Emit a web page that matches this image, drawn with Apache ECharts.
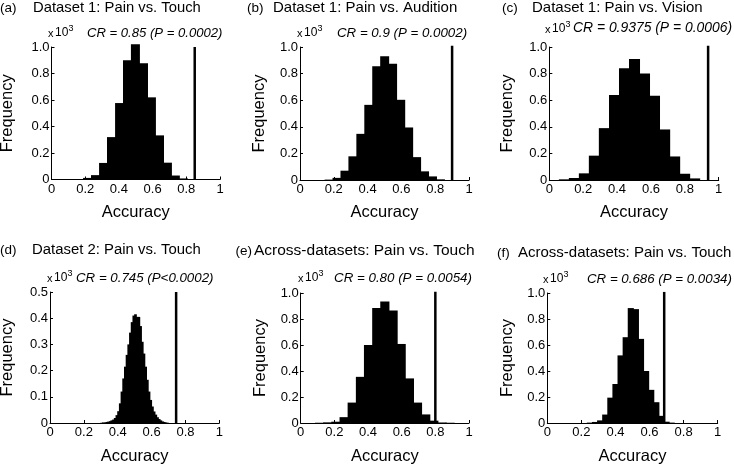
<!DOCTYPE html>
<html><head><meta charset="utf-8">
<script src="https://cdn.jsdelivr.net/npm/echarts@6/dist/echarts.min.js"></script>
<style>html,body{margin:0;padding:0;background:#fff}#c{width:734px;height:467px}</style>
</head><body><div id="c"></div>
<script>
// ---------- data ----------
const panelLetters = ['(a)', '(b)', '(c)', '(d)', '(e)', '(f)'];
const panelTitles = [
  'Dataset 1: Pain vs. Touch',
  'Dataset 1: Pain vs. Audition',
  'Dataset 1: Pain vs. Vision',
  'Dataset 2: Pain vs. Touch',
  'Across-datasets: Pain vs. Touch',
  'Across-datasets: Pain vs. Touch'
];
const crTexts = [
  'CR = 0.85 (P = 0.0002)',
  'CR = 0.9 (P = 0.0002)',
  'CR = 0.9375 (P = 0.0006)',
  'CR = 0.745 (P<0.0002)',
  'CR = 0.80 (P = 0.0054)',
  'CR = 0.686 (P = 0.0034)'
];
const crValues = [0.85, 0.9, 0.9375, 0.745, 0.80, 0.686];
const crLineTops = [1.0, 1.02, 1.02, 0.5, 1.02, 1.01];   // x10^3
const yMaxValues = [1, 1, 1, 0.5, 1, 1];
const yIntervals = [0.2, 0.2, 0.2, 0.1, 0.2, 0.2];
const binWidths = [0.0474, 0.0471, 0.0592, 0.01, 0.0485, 0.03];

const centersA = [0.167, 0.214, 0.261, 0.309, 0.356, 0.404, 0.451, 0.498, 0.546, 0.593, 0.641, 0.688, 0.735, 0.783];
const countsA  = [0.003, 0.012, 0.033, 0.125, 0.32, 0.577, 0.90, 1.02, 0.877, 0.62, 0.333, 0.127, 0.03, 0.008];

const centersB = [0.172, 0.219, 0.266, 0.313, 0.360, 0.407, 0.454, 0.501, 0.548, 0.596, 0.643, 0.690, 0.737, 0.784, 0.831];
const countsB  = [0.003, 0.016, 0.07, 0.178, 0.347, 0.565, 0.856, 0.93, 0.875, 0.603, 0.395, 0.172, 0.065, 0.027, 0.005];

const centersC = [0.089, 0.148, 0.207, 0.266, 0.325, 0.385, 0.444, 0.503, 0.562, 0.621, 0.681, 0.740, 0.799, 0.858];
const countsC  = [0.005, 0.015, 0.05, 0.183, 0.39, 0.64, 0.84, 0.91, 0.80, 0.633, 0.38, 0.177, 0.047, 0.012];

const centersD = [0.305, 0.315, 0.325, 0.335, 0.345, 0.355, 0.365, 0.375, 0.385, 0.395,
                  0.405, 0.415, 0.425, 0.435, 0.445, 0.455, 0.465, 0.475, 0.485, 0.495,
                  0.505, 0.515, 0.525, 0.535, 0.545, 0.555, 0.565, 0.575, 0.585, 0.595,
                  0.605, 0.615, 0.625, 0.635, 0.645, 0.655, 0.665, 0.675, 0.685, 0.695];
const countsD  = [0.001, 0.002, 0.002, 0.004, 0.005, 0.007, 0.010, 0.013, 0.019, 0.030,
                  0.045, 0.075, 0.12, 0.17, 0.215, 0.26, 0.30, 0.345, 0.385, 0.41,
                  0.415, 0.405, 0.405, 0.37, 0.31, 0.265, 0.215, 0.165, 0.12, 0.088,
                  0.063, 0.044, 0.032, 0.022, 0.015, 0.010, 0.006, 0.004, 0.002, 0.001];

const centersE = [0.112, 0.161, 0.209, 0.258, 0.306, 0.355, 0.403, 0.452, 0.500, 0.549, 0.597, 0.646, 0.694, 0.743, 0.791, 0.840, 0.888];
const countsE  = [0.002, 0.005, 0.01, 0.045, 0.157, 0.355, 0.60, 0.884, 0.935, 0.866, 0.608, 0.343, 0.157, 0.066, 0.018, 0.004, 0.002];

const centersF = [0.25, 0.28, 0.31, 0.34, 0.37, 0.40, 0.43, 0.46, 0.49, 0.52, 0.55, 0.58, 0.61, 0.64, 0.67, 0.70, 0.73];
const countsF  = [0.003, 0.008, 0.02, 0.065, 0.195, 0.30, 0.52, 0.66, 0.884, 0.876, 0.647, 0.40, 0.255, 0.16, 0.055, 0.01, 0.003];

const allCenters = [centersA, centersB, centersC, centersD, centersE, centersF];
const allCounts = [countsA, countsB, countsC, countsD, countsE, countsF];

// ---------- layout ----------
const grids = [
  {left: 51.5, top: 47, width: 168.5, height: 132.5},
  {left: 300, top: 47, width: 169, height: 133},
  {left: 549.3, top: 47, width: 169.4, height: 133},
  {left: 50, top: 292, width: 169.3, height: 131},
  {left: 300.7, top: 293, width: 168.3, height: 130},
  {left: 547.3, top: 293, width: 170.4, height: 130}
];
const letterPos = [[0, 8], [247, 8], [502, 8], [0, 250], [235.5, 251], [497, 253]];
const titlePos  = [[33, 8], [273, 8], [532, 8], [32, 250], [254, 251], [518, 253]];
const titleSizes = [14.8, 15, 15, 14.9, 15.5, 15];
const x10Pos    = [[48, 33], [297, 33], [545, 29], [47, 278], [298, 278], [543, 279]];
const crPos     = [[87, 33], [337, 33], [573, 28], [76, 278], [334, 278], [587, 279]];
const crSizes   = [13.1, 13.3, 13.9, 13.3, 13.35, 13.3];
const freqX     = [7.5, 259.5, 507.5, 7.5, 260, 507.5];
const accY      = [212, 212, 212, 456, 456, 456];

const FONT = '"Liberation Sans", Arial, Helvetica, sans-serif';

const chart = echarts.init(document.getElementById('c'), null, {renderer: 'canvas'});

function renderBars(params, api) {
  const c = api.value(0), h = api.value(1), w = api.value(2);
  const p0 = api.coord([c - w / 2, 0]);
  const p1 = api.coord([c + w / 2, h]);
  // slight overlap so neighbouring bars merge without anti-alias seams
  return {
    type: 'rect',
    shape: {x: p0[0] - 0.5, y: p1[1], width: p1[0] - p0[0] + 1, height: p0[1] - p1[1]},
    style: {fill: '#000'}
  };
}

const gridOpt = [], xAxes = [], yAxes = [], series = [], graphics = [];
for (let i = 0; i < 6; i++) {
  gridOpt.push(Object.assign({containLabel: false}, grids[i]));
  xAxes.push({
    type: 'value', gridIndex: i, min: 0, max: 1, interval: 0.2,
    axisLine: {show: true, onZero: false, lineStyle: {color: '#000', width: 1}},
    axisTick: {show: true, inside: true, length: 3, lineStyle: {color: '#000'}},
    splitLine: {show: false},
    axisLabel: {color: '#000', fontFamily: FONT, fontSize: 13, margin: 3,
      formatter: v => (v === 0 ? '0' : v === 1 ? '1' : v.toFixed(1))}
  });
  yAxes.push({
    type: 'value', gridIndex: i, min: 0, max: yMaxValues[i], interval: yIntervals[i],
    axisLine: {show: true, lineStyle: {color: '#000', width: 1}},
    axisTick: {show: true, inside: true, length: 3, lineStyle: {color: '#000'}},
    splitLine: {show: false},
    axisLabel: {color: '#000', fontFamily: FONT, fontSize: 13, margin: 2,
      formatter: v => (v === 0 ? '0' : v.toFixed(1))}
  });
  series.push({
    type: 'custom', xAxisIndex: i, yAxisIndex: i, clip: false,
    renderItem: renderBars,
    encode: {x: 0, y: 1},
    data: allCenters[i].map((c, k) => [c, allCounts[i][k], binWidths[i]]),
    silent: true, z: 2
  });
  series.push({
    type: 'line', xAxisIndex: i, yAxisIndex: i, symbol: 'none', silent: true,
    lineStyle: {color: '#000', width: 2.5}, z: 3,
    data: [[crValues[i], 0], [crValues[i], crLineTops[i]]]
  });

  graphics.push({type: 'text', x: letterPos[i][0], y: letterPos[i][1],
    style: {text: panelLetters[i], font: '13.5px ' + FONT, fill: '#000', textVerticalAlign: 'middle'}});
  graphics.push({type: 'text', x: titlePos[i][0], y: titlePos[i][1],
    style: {text: panelTitles[i], font: titleSizes[i] + 'px ' + FONT, fill: '#000', textVerticalAlign: 'middle'}});
  graphics.push({type: 'text', x: x10Pos[i][0], y: x10Pos[i][1] + 1,
    style: {text: 'x', font: '11px ' + FONT, fill: '#000', textVerticalAlign: 'middle'}});
  graphics.push({type: 'text', x: x10Pos[i][0] + 7, y: x10Pos[i][1],
    style: {text: '10', font: '12px ' + FONT, fill: '#000', textVerticalAlign: 'middle'}});
  graphics.push({type: 'text', x: x10Pos[i][0] + 20.5, y: x10Pos[i][1] - 4,
    style: {text: '3', font: '9px ' + FONT, fill: '#000', textVerticalAlign: 'middle'}});
  graphics.push({type: 'text', x: crPos[i][0], y: crPos[i][1],
    style: {text: crTexts[i], font: 'italic ' + crSizes[i] + 'px ' + FONT, fill: '#000', textVerticalAlign: 'middle'}});
  graphics.push({type: 'text', x: freqX[i], y: grids[i].top + grids[i].height / 2, rotation: Math.PI / 2,
    style: {text: 'Frequency', font: '16.5px ' + FONT, fill: '#000', textAlign: 'center', textVerticalAlign: 'middle'}});
  graphics.push({type: 'text', x: grids[i].left + grids[i].width / 2, y: accY[i],
    style: {text: 'Accuracy', font: '16.5px ' + FONT, fill: '#000', textAlign: 'center', textVerticalAlign: 'middle'}});
}

chart.setOption({
  animation: false,
  backgroundColor: '#fff',
  grid: gridOpt,
  xAxis: xAxes,
  yAxis: yAxes,
  series: series,
  graphic: graphics
});
</script>
</body></html>
